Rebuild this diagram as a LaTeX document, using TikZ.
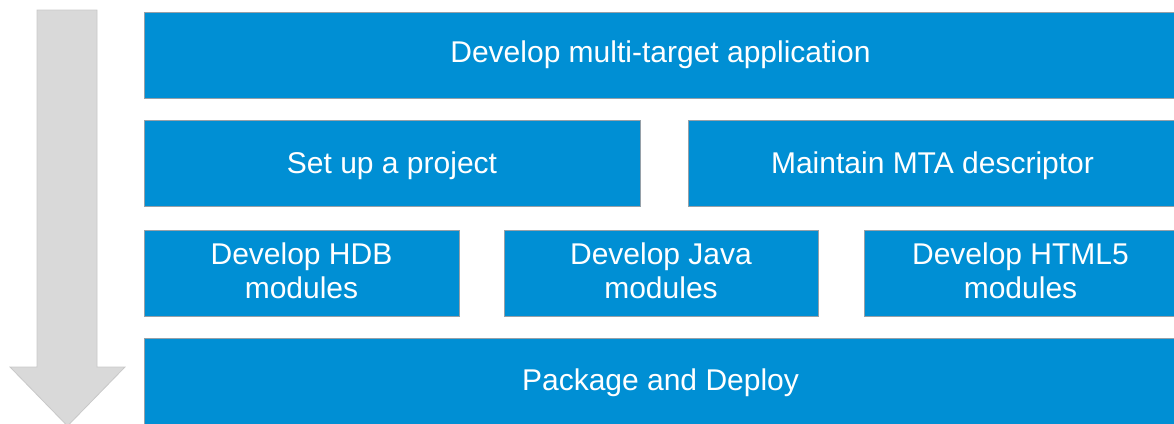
\documentclass[tikz,border=0pt]{standalone}
\usepackage{fontspec}
\setmainfont{Liberation Sans}
\definecolor{sapblue}{RGB}{0,143,212}
\definecolor{boxedge}{RGB}{150,160,168}
\definecolor{arrowgray}{RGB}{217,217,217}
\definecolor{arrowedge}{RGB}{200,200,200}
\newcommand{\lowertext}[2]{\raisebox{-#1}[\height][\depth]{#2}}
\newcommand{\twolines}[2]{\begin{tabular}{@{}c@{}}#1\\#2\end{tabular}}
\begin{document}
\begin{tikzpicture}[x=1pt,y=-1pt,
  stepbox/.style={draw=boxedge,line width=0.8pt,fill=sapblue,text=white,
    font=\fontsize{30}{34}\selectfont,align=center,inner sep=0pt}]
\useasboundingbox (0,0) rectangle (1174,423);
\clip (0,0) rectangle (1174,423);
% process arrow
\draw[fill=arrowgray,draw=arrowedge,line width=0.8pt]
  (37,10) -- (97,10) -- (97,367) -- (125,367) -- (67.5,426) -- (10,367) -- (37,367) -- cycle;
% boxes
\node[stepbox,minimum width=1033pt,minimum height=86pt] (dev) at (660.5,55) {Develop multi-target application};
\node[stepbox,minimum width=496pt,minimum height=86pt] (setup) at (392,163) {\lowertext{3pt}{Set up a project}};
\node[stepbox,minimum width=489pt,minimum height=86pt] (mta) at (932.5,163) {\lowertext{3pt}{Maintain MTA descriptor}};
\node[stepbox,minimum width=315pt,minimum height=86pt] (hdb) at (301.5,273.5) {\lowertext{1pt}{\twolines{Develop HDB}{modules}}};
\node[stepbox,minimum width=314pt,minimum height=86pt] (java) at (661,273.5) {\lowertext{1pt}{\twolines{Develop Java}{modules}}};
\node[stepbox,minimum width=313pt,minimum height=86pt] (html) at (1020.5,273.5) {\lowertext{1pt}{\twolines{Develop HTML5}{modules}}};
\node[stepbox,minimum width=1033pt,minimum height=90pt] (pkg) at (660.5,383) {Package and Deploy};
\end{tikzpicture}
\end{document}
